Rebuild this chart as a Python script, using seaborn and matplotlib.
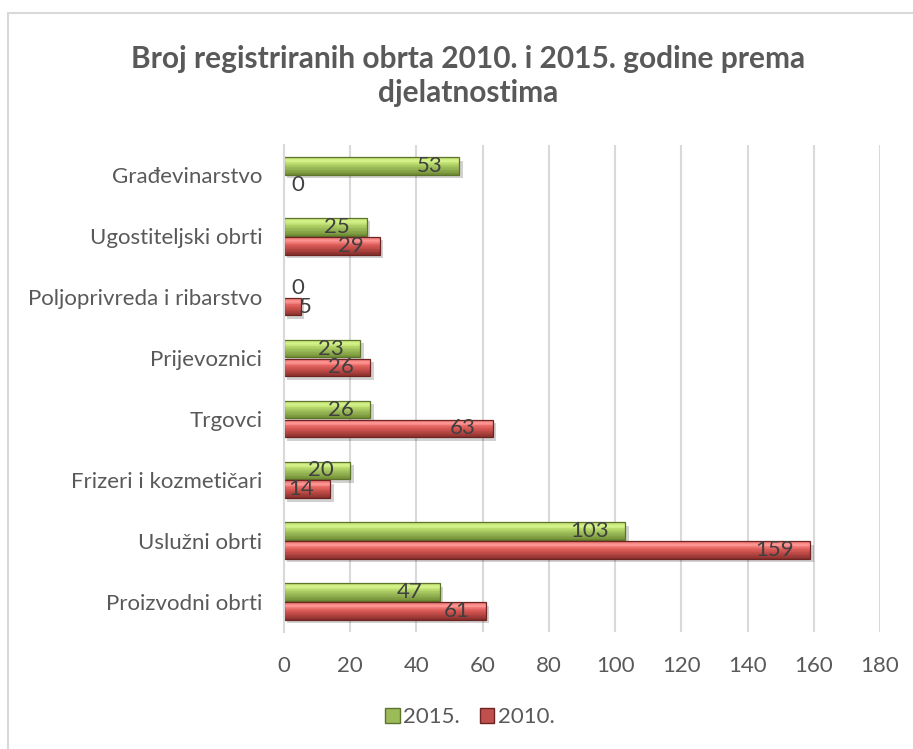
import numpy as np
import pandas as pd
import matplotlib
matplotlib.use("Agg")
import matplotlib.pyplot as plt
import seaborn as sns
from matplotlib.colors import LinearSegmentedColormap, to_hex
from matplotlib.patches import Rectangle, Patch
import matplotlib.patheffects as pe

categories = ["Građevinarstvo", "Ugostiteljski obrti", "Poljoprivreda i ribarstvo",
              "Prijevoznici", "Trgovci", "Frizeri i kozmetičari", "Uslužni obrti",
              "Proizvodni obrti"]
values_2015 = [53, 25, 0, 23, 26, 20, 103, 47]
values_2010 = [0, 29, 5, 26, 63, 14, 159, 61]
series_names = ["2015.", "2010."]
x_ticks = [0, 20, 40, 60, 80, 100, 120, 140, 160, 180]
title = "Broj registriranih obrta 2010. i 2015. godine prema\ndjelatnostima"

df = pd.DataFrame({
    "cat": categories * 2,
    "val": values_2015 + values_2010,
    "series": [series_names[0]] * len(categories) + [series_names[1]] * len(categories),
})

sns.set_theme(style="white")
plt.rcParams["font.family"] = ["Lato", "DejaVu Sans"]

colors = {"2015.": "#9BBB59", "2010.": "#C0504D"}
# gradient stops from visual top to bottom
grad = {
    "2015.": ["#BFE070", "#D6F48C", "#B4D468", "#9BBB59", "#88A648", "#6F8C35"],
    "2010.": ["#E8706C", "#FF9896", "#E2625E", "#C9504C", "#AA403D", "#88302D"],
}
edges = {"2015.": "#5E742B", "2010.": "#6E2422"}

fig = plt.figure(figsize=(9.13, 7.49), dpi=100)
ax = fig.add_axes([284 / 913, 1 - 632 / 749, (880 - 284) / 913, (632 - 145) / 749])

sns.barplot(data=df, y="cat", x="val", hue="series", hue_order=series_names,
            order=categories, palette=colors, orient="h", width=0.62, gap=0.06,
            legend=False, ax=ax)

ax.set_xlim(0, 180)
ax.set_xticks(x_ticks)
ax.grid(axis="x", color="#D9D9D9", linewidth=1.5)
ax.set_axisbelow(True)
for s in ["top", "right", "bottom"]:
    ax.spines[s].set_visible(False)
ax.spines["left"].set_color("#D9D9D9")
ax.spines["left"].set_linewidth(1.5)
ax.set_xlabel("")
ax.set_ylabel("")
ax.tick_params(axis="both", length=0, labelsize=16, colors="#595959")
ax.tick_params(axis="x", pad=17)
ax.tick_params(axis="y", pad=15.5)

n = len(categories)
ax.set_ylim(n - 0.5, -0.5)
NS = 24
for i, patch in enumerate(ax.patches[:2 * n]):
    s = series_names[i // n]
    x0, y0 = patch.get_x(), patch.get_y()
    w, h = patch.get_width(), patch.get_height()
    if w > 0:
        patch.set_zorder(2)
        patch.set_linewidth(0)
        patch.set_path_effects([pe.SimplePatchShadow(offset=(2.5, -2.5), shadow_rgbFace="#000000", alpha=0.18),
                                pe.Normal()])
        cmap = LinearSegmentedColormap.from_list("g", grad[s])
        for k in range(NS):
            ax.add_patch(Rectangle((x0, y0 + k * h / NS), w, h / NS * 1.05,
                                   facecolor=to_hex(cmap(k / (NS - 1))),
                                   edgecolor="none", zorder=2.1))
        ax.add_patch(Rectangle((x0, y0), w, h, facecolor="none",
                               edgecolor=edges[s], linewidth=0.9, zorder=2.2))
    yc = y0 + h / 2
    if w >= 8:
        ax.annotate(str(int(w)), (x0 + w, yc), xytext=(-12, 0), textcoords="offset points",
                    ha="right", va="center", fontsize=16, color="#404040", zorder=3)
    else:
        ax.annotate(str(int(w)), (0, yc), xytext=(5 + 1.2 * w, 0), textcoords="offset points",
                    ha="left", va="center", fontsize=16, color="#404040", zorder=3)

ax.set_xlim(0, 180)
ax.set_ylim(n - 0.5, -0.5)

fig.text(468 / 913, 1 - 76 / 749, title, ha="center", va="center", fontsize=21.5,
         fontweight="bold", color="#595959", linespacing=1.3)

handles = [Patch(facecolor=colors[s], edgecolor=edges[s], label=s) for s in series_names]
fig.legend(handles=handles, loc="center", bbox_to_anchor=(470 / 913, 1 - 717 / 749),
           ncol=2, frameon=False, fontsize=16, handlelength=0.65, handleheight=0.65,
           handletextpad=0.15, columnspacing=0.9, labelcolor="#595959")

fig.patches.append(Rectangle((8 / 913, -0.05), 1.2, 1 - 13 / 749 + 0.05,
                             transform=fig.transFigure, fill=False,
                             edgecolor="#D9D9D9", linewidth=1.5))

fig.savefig("out.png", dpi=100)
